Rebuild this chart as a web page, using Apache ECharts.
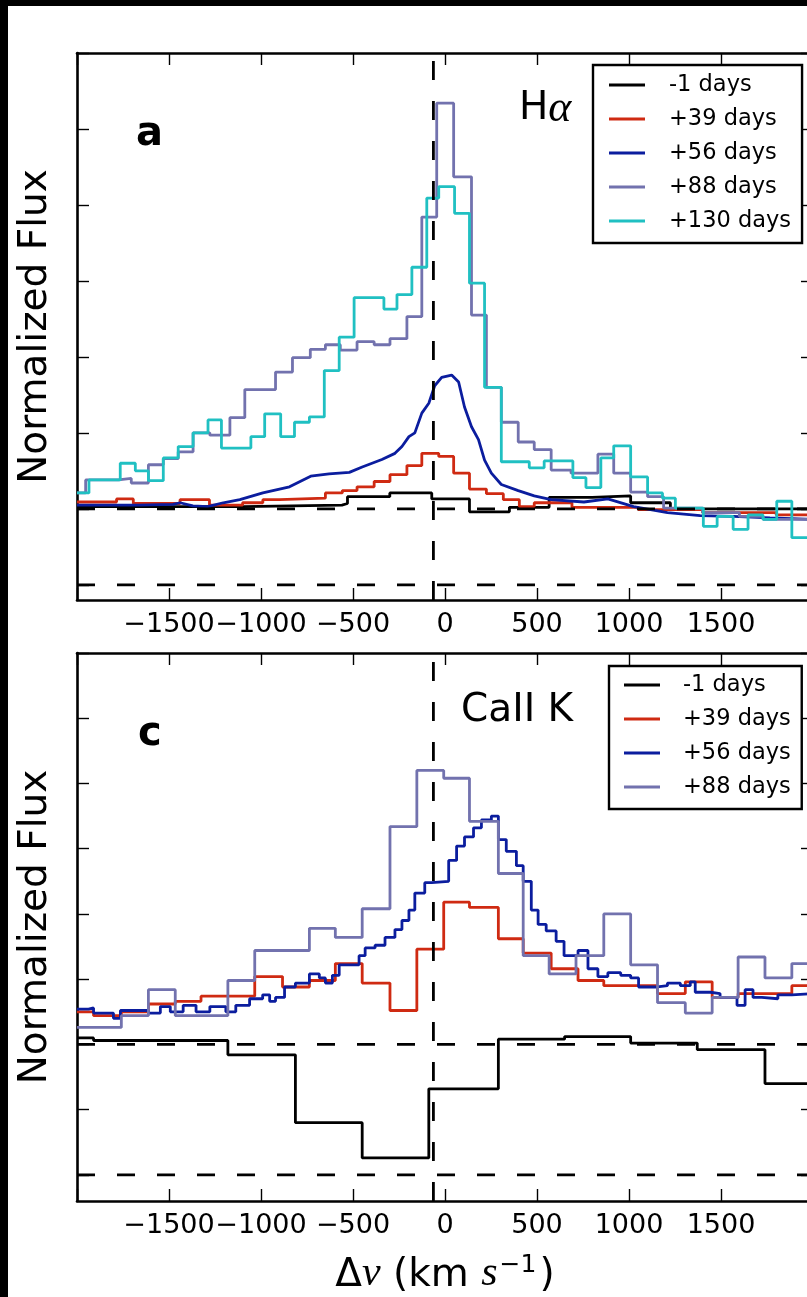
<!DOCTYPE html>
<html>
<head>
<meta charset="utf-8">
<script src="https://cdn.jsdelivr.net/npm/echarts@6/dist/echarts.min.js"></script>
<style>
html,body{margin:0;padding:0;background:#000;width:807px;height:1297px;overflow:hidden}
#chart{position:absolute;left:8px;top:6px;width:830px;height:1291px;background:#fff}
</style>
</head>
<body>
<div id="chart"></div>
<script>
// ---------- data (velocity km/s, normalized flux) ----------
const xTicks = [-2000, -1500, -1000, -500, 0, 500, 1000, 1500, 2000];
const yTicksA = [0, 1, 2, 3, 4, 5, 6, 7];
const yTicksC = [0, 0.5, 1, 1.5, 2, 2.5, 3, 3.5, 4];
const refVelocity = -63;
const refLevels = [0, 1];
const legendNamesA = ['-1 days', '+39 days', '+56 days', '+88 days', '+130 days'];
const legendNamesC = ['-1 days', '+39 days', '+56 days', '+88 days'];

// Panel a: H-alpha (bin left edge, value)
const haBlack = [[-2000,1.03],[-1100,1.05],[-560,1.07],[-530,1.16],[-300,1.21],[-72,1.13],[133,0.96],[350,1.02],[566,1.15],[800,1.17],[1009,1.08],[1225,1.0]];
const haRed = [[-2000,1.09],[-1785,1.13],[-1694,1.07],[-1440,1.12],[-1280,1.05],[-1100,1.08],[-990,1.12],[-900,1.14],[-650,1.21],[-558,1.24],[-478,1.29],[-385,1.36],[-299,1.45],[-207,1.57],[-126,1.73],[-34,1.69],[47,1.47],[133,1.26],[225,1.2],[317,1.12],[404,1.03],[485,1.08],[690,1.02],[1050,0.99],[1400,0.95],[1800,0.92]];
const haBlue = [[-2000,1.05],[-1665,1.05],[-1478,1.06],[-1440,1.08],[-1370,1.04],[-1290,1.03],[-1205,1.08],[-1115,1.12],[-990,1.21],[-845,1.29],[-730,1.43],[-630,1.46],[-520,1.48],[-450,1.55],[-343,1.65],[-272,1.73],[-234,1.82],[-196,1.95],[-164,2.0],[-126,2.26],[-88,2.39],[-56,2.62],[-18,2.73],[36,2.76],[74,2.67],[106,2.34],[144,2.08],[182,1.91],[215,1.64],[252,1.47],[306,1.32],[398,1.24],[485,1.17],[577,1.12],[755,1.09],[885,1.13],[1025,1.03],[1209,0.95],[1387,0.91],[1566,0.9],[1766,0.88],[2000,0.86]];
const haPurple = [[-2000,1.21],[-1953,1.38],[-1775,1.40],[-1705,1.34],[-1612,1.58],[-1531,1.66],[-1450,1.75],[-1369,2.0],[-1278,1.97],[-1169,2.2],[-1088,2.57],[-921,2.8],[-829,2.99],[-732,3.1],[-650,3.16],[-569,3.09],[-478,3.2],[-385,3.16],[-299,3.24],[-207,3.53],[-126,4.84],[-45,6.34],[47,5.37],[144,3.55],[225,2.6],[306,2.14],[398,1.88],[485,1.78],[577,1.51],[685,1.47],[831,1.72],[917,1.47],[1009,1.22],[1101,1.16],[1188,1.01],[1400,0.95],[1600,0.9],[1730,0.86]];
const haCyan = [[-2000,1.21],[-1935,1.38],[-1765,1.6],[-1683,1.5],[-1612,1.37],[-1531,1.67],[-1450,1.82],[-1369,2.0],[-1288,2.17],[-1215,1.8],[-1055,1.95],[-980,2.25],[-893,1.95],[-818,2.14],[-737,2.21],[-656,2.82],[-575,3.26],[-494,3.78],[-332,3.63],[-261,3.82],[-180,4.18],[-99,5.09],[-34,5.24],[52,4.89],[133,3.97],[215,2.6],[306,1.62],[458,1.54],[539,1.63],[695,1.41],[766,1.28],[847,1.67],[917,1.83],[1009,1.42],[1101,1.21],[1182,1.14],[1252,1.01],[1404,0.77],[1479,0.9],[1566,0.73],[1647,0.92],[1728,0.86],[1803,1.1],[1885,0.62]];

// Panel c: CaII K (bin left edge, value)
const caBlack = [[-2000,1.05],[-1910,1.03],[-1180,0.92],[-813,0.40],[-450,0.13],[-88,0.66],[290,1.04],[650,1.06],[1009,1.01],[1371,0.96],[1739,0.70]];
const caRed = [[-2000,1.25],[-1910,1.22],[-1759,1.25],[-1612,1.31],[-1466,1.33],[-1326,1.37],[-1034,1.52],[-883,1.44],[-737,1.49],[-596,1.62],[-450,1.47],[-299,1.26],[-153,1.73],[-7,2.09],[133,2.05],[290,1.81],[425,1.70],[577,1.58],[723,1.49],[863,1.45],[1155,1.39],[1306,1.48],[1452,1.36],[1593,1.39],[1885,1.45]];
const caBlue = [[-2000,1.27],[-1937,1.28],[-1910,1.24],[-1802,1.20],[-1764,1.26],[-1612,1.24],[-1547,1.29],[-1493,1.25],[-1423,1.30],[-1353,1.25],[-1278,1.29],[-1191,1.25],[-1137,1.30],[-1062,1.35],[-991,1.38],[-953,1.33],[-921,1.36],[-872,1.44],[-813,1.47],[-737,1.54],[-683,1.51],[-650,1.47],[-612,1.53],[-575,1.61],[-467,1.68],[-434,1.74],[-380,1.76],[-326,1.82],[-272,1.88],[-234,1.95],[-196,2.03],[-164,2.16],[-110,2.24],[-72,2.25],[20,2.41],[63,2.52],[106,2.59],[155,2.66],[198,2.72],[252,2.75],[290,2.57],[333,2.48],[388,2.37],[425,2.25],[469,2.03],[506,1.92],[550,1.87],[604,1.79],[647,1.68],[723,1.72],[777,1.58],[831,1.52],[885,1.55],[955,1.53],[1009,1.51],[1052,1.44],[1144,1.45],[1209,1.47],[1279,1.45],[1333,1.48],[1360,1.40],[1442,1.39],[1495,1.36],[1587,1.30],[1631,1.42],[1674,1.36],[1722,1.35],[1809,1.38],[1885,1.39]];
const caPurple = [[-2000,1.13],[-1759,1.22],[-1612,1.42],[-1466,1.22],[-1180,1.49],[-1034,1.72],[-737,1.89],[-596,1.82],[-450,2.04],[-299,2.67],[-153,3.10],[-7,3.04],[133,2.71],[290,2.31],[425,1.68],[566,1.54],[712,1.68],[863,2.0],[1009,1.61],[1155,1.32],[1306,1.24],[1452,1.36],[1593,1.67],[1739,1.51],[1885,1.62]];

// ---------- styles ----------
const COL = {'-1 days':'#000000','+39 days':'#cf2a12','+56 days':'#0b1d9e','+88 days':'#7272ae','+130 days':'#20c0c2'};
const FONT = 'DejaVu Sans';
const LW = 2.8;

function stepData(arr){ const d = arr.map(p => [p[0], p[1]]); d.push([xTicks[xTicks.length-1], arr[arr.length-1][1]]); return d; }

function stepSeries(name, arr, xi, yi){
  return {type:'line', name, xAxisIndex:xi, yAxisIndex:yi, data:stepData(arr), step:'end', symbol:'none',
    color:COL[name], lineStyle:{width:LW, color:COL[name]}, itemStyle:{color:COL[name]}, animation:false, z:3};
}
function lineSeries(name, arr, xi, yi){
  return {type:'line', name, xAxisIndex:xi, yAxisIndex:yi, data:arr, symbol:'none',
    color:COL[name], lineStyle:{width:LW, color:COL[name]}, itemStyle:{color:COL[name]}, animation:false, z:3};
}
function refSeries(xi, yi, ymin, ymax){
  const out = [];
  refLevels.forEach(l => out.push({type:'line', xAxisIndex:xi, yAxisIndex:yi, data:[[xTicks[0], l],[xTicks[xTicks.length-1], l]], symbol:'none', silent:true,
    lineStyle:{color:'#000', width:2.8, type:[18,22]}, animation:false, z:4}));
  out.push({type:'line', xAxisIndex:xi, yAxisIndex:yi, data:[[refVelocity, ymin],[refVelocity, ymax]], symbol:'none', silent:true,
    lineStyle:{color:'#000', width:2.8, type:[19,21]}, animation:false, z:4});
  return out;
}

const fmt = v => (Math.abs(v) >= 2000 ? '' : String(v).replace('-', '\u2212'));

function xAx(gi, pos, withLabels, name){
  const a = {type:'value', gridIndex:gi, position:pos, min:-2000, max:2000, interval:500,
    axisLine:{show:true, onZero:false, lineStyle:{color:'#000', width:2.6}},
    axisTick:{show:true, inside:true, length:12, lineStyle:{color:'#000', width:1.4}},
    axisLabel:{show:withLabels, formatter:fmt, color:'#000', fontFamily:FONT, fontSize:27, margin:11},
    splitLine:{show:false}};
  if(name){
    a.name = '{n|\u0394}{i|v}{n| (km }{i|s}{sup|\u22121}{n|)}';
    a.nameLocation = 'middle'; a.nameGap = 52;
    a.nameTextStyle = {color:'#000', rich:{
      n:{fontFamily:FONT, fontSize:39, color:'#000', lineHeight:42, verticalAlign:'bottom'},
      i:{fontFamily:'Liberation Serif', fontStyle:'italic', fontSize:42, color:'#000', lineHeight:42, verticalAlign:'bottom'},
      sup:{fontFamily:FONT, fontSize:25, color:'#000', lineHeight:42, verticalAlign:'top', padding:[0,3,0,2]}
    }};
  }
  return a;
}
function yAx(gi, pos, ticks, ymax, name){
  const a = {type:'value', gridIndex:gi, position:pos, min:-0.2, max:ymax,
    axisLine:{show:true, onZero:false, lineStyle:{color:'#000', width:2.6}},
    axisTick:{show:true, inside:true, length:12, customValues:ticks, lineStyle:{color:'#000', width:1.4}},
    axisLabel:{show:false, customValues:ticks},
    splitLine:{show:false}};
  if(name){
    a.name = name; a.nameLocation = 'middle'; a.nameGap = 22; a.nameRotate = 90;
    a.nameTextStyle = {color:'#000', fontFamily:FONT, fontSize:39};
  }
  return a;
}

function legendCfg(names, left, top, pad, textPadL){
  return {data:names, orient:'vertical', left, top, padding:pad, itemGap:0, itemWidth:36, itemHeight:3, icon:'rect',
    backgroundColor:'#fff', borderColor:'#000', borderWidth:2.4, borderRadius:0, selectedMode:false,
    textStyle:{color:'#000', fontFamily:FONT, fontSize:22.5, lineHeight:34, padding:[0,0,0,textPadL]}};
}

const series = [];
series.push(stepSeries('-1 days', haBlack, 0, 0));
series.push(stepSeries('+39 days', haRed, 0, 0));
series.push(lineSeries('+56 days', haBlue, 0, 0));
series.push(stepSeries('+88 days', haPurple, 0, 0));
series.push(stepSeries('+130 days', haCyan, 0, 0));
refSeries(0, 0, -0.2, 7).forEach(s => series.push(s));
series.push(stepSeries('-1 days', caBlack, 2, 2));
series.push(stepSeries('+39 days', caRed, 2, 2));
series.push(stepSeries('+56 days', caBlue, 2, 2));
series.push(stepSeries('+88 days', caPurple, 2, 2));
refSeries(2, 2, -0.2, 4).forEach(s => series.push(s));

const option = {
  animation:false,
  backgroundColor:'#fff',
  grid:[{left:65, top:47, width:740, height:547}, {left:65, top:647, width:740, height:548}],
  xAxis:[xAx(0,'bottom',true), xAx(0,'top',false), xAx(1,'bottom',true,true), xAx(1,'top',false)],
  yAxis:[yAx(0,'left',yTicksA,7,'Normalized Flux'), yAx(0,'right',yTicksA,7), yAx(1,'left',yTicksC,4,'Normalized Flux'), yAx(1,'right',yTicksC,4)],
  legend:[legendCfg(legendNamesA, 585, 59, [3,11,5,16], 19), legendCfg(legendNamesC, 601, 660, [2,11,5,15], 18)],
  graphic:[
    {type:'text', x:128, y:129, style:{text:'a', fontFamily:FONT, fontWeight:'bold', fontSize:40, fill:'#000', verticalAlign:'middle'}},
    {type:'text', x:130, y:729, style:{text:'c', fontFamily:FONT, fontWeight:'bold', fontSize:40, fill:'#000', verticalAlign:'middle'}},
    {type:'text', x:511, y:103, style:{text:'{h|H}{a|\u03b1}', verticalAlign:'middle', rich:{
      h:{fontFamily:FONT, fontSize:39, fill:'#000'}, a:{fontFamily:'Liberation Serif', fontStyle:'italic', fontSize:44, fill:'#000'}}}},
    {type:'text', x:453, y:705, style:{text:'CaII K', fontFamily:FONT, fontSize:39, fill:'#000', verticalAlign:'middle'}}
  ],
  series
};
const chart = echarts.init(document.getElementById('chart'), null, {renderer:'canvas'});
chart.setOption(option);
</script>
</body>
</html>
